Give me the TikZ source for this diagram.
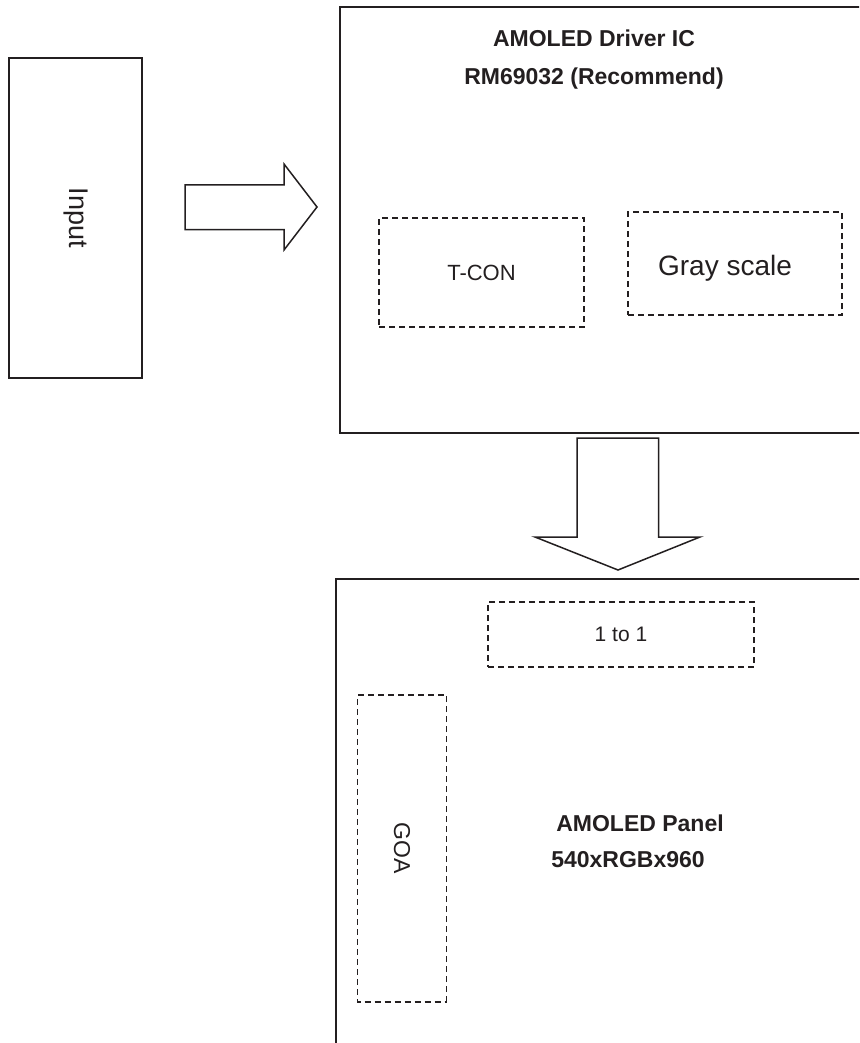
\documentclass[tikz,border=0pt]{standalone}
\usepackage{fontspec}
\setmainfont{Liberation Sans}
\usepackage{tikz}
\usetikzlibrary{positioning,calc}
\definecolor{InkGray}{RGB}{35,31,32}

\begin{document}
\begin{tikzpicture}[x=1pt,y=-1pt,
  solidbox/.style={draw=InkGray,line width=1.8pt,inner sep=0pt,text=InkGray},
  dashbox/.style={draw=InkGray,line width=1.4pt,dash pattern=on 6pt off 4pt,
                  inner sep=0pt,text=InkGray},
  blockarr/.style={draw=InkGray,line width=1.5pt,line join=miter},
  title/.style={font=\fontsize{23}{27}\selectfont\bfseries,text=InkGray},
]
\useasboundingbox (0,0) rectangle (859,1043);
\clip (0,0) rectangle (859,1043);
% input side
\node[solidbox,rotate=-90,minimum width=320pt,minimum height=133pt,
      font=\fontsize{27}{30}\selectfont] (input) at (75.5,218) {Input};
\draw[blockarr] (185,185) -- (284,185) -- (284,164) -- (317,207)
  -- (284,250) -- (284,229.5) -- (185,229.5) -- cycle;
% driver IC
\node[solidbox,minimum width=560pt,minimum height=426pt,anchor=north west]
  (drvic) at (339,6) {};
\node[title] (drvname) at (594,38) {AMOLED Driver IC};
\node[title] (drvpart) at (594,78.5) {RM69032 (Recommend)};
\node[dashbox,minimum width=205pt,minimum height=109pt,
      font=\fontsize{22}{26}\selectfont] (tcon) at (481.5,272.5) {T-CON};
\node[dashbox,minimum width=214pt,minimum height=103pt] (gray) at (735,263.5) {};
\node[font=\fontsize{28}{32}\selectfont,text=InkGray] (graylbl)
  at ([xshift=-10pt,yshift=-5pt]gray.center) {Gray scale};
\draw[blockarr] (577,438) -- (658.5,438) -- (658.5,537) -- (700,537)
  -- (618,570) -- (535,537) -- (577,537) -- cycle;
% panel
\node[solidbox,minimum width=560pt,minimum height=500pt,anchor=north west]
  (panel) at (335,578) {};
\node[dashbox,minimum width=266pt,minimum height=65pt,
      font=\fontsize{21}{25}\selectfont] (onetoone) at (621,634.5) {1 to 1};
\node[dashbox,rotate=-90,minimum width=307pt,minimum height=89pt,
      font=\fontsize{23}{27}\selectfont] (goa) at (402,848.5) {GOA};
\node[title] (panelname) at (640,823) {AMOLED Panel};
\node[title] (panelres) at (628,860) {540xRGBx960};
\end{tikzpicture}
\end{document}
